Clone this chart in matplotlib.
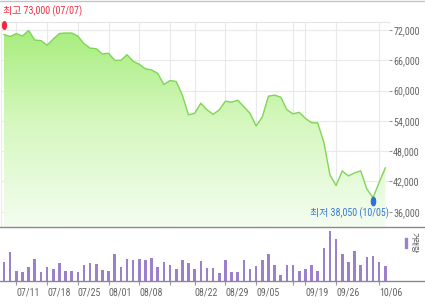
import numpy as np
import matplotlib.pyplot as plt
from matplotlib.colors import LinearSegmentedColormap
from matplotlib.lines import Line2D
from matplotlib.patches import Rectangle

# daily closes, 2022-07-07 .. 2022-10-07 (trading days only)
closes = [71100, 70700, 71300, 70800, 71900, 70000, 69900, 69000, 70200, 71300,
          71400, 71400, 70800, 69300, 68400, 68300, 67250, 67400, 66000, 66000,
          67100, 65800, 65200, 64300, 64100, 63400, 61200, 62000, 61800, 59100,
          55200, 55500, 57500, 56200, 55300, 56200, 57900, 57700, 58100, 56800,
          55500, 53000, 54800, 58900, 59100, 58700, 56200, 55400, 55700, 54500,
          53650, 53600, 49800, 43300, 41200, 44100, 43100, 43700, 44100, 40500,
          38800, 41800, 44700]
volumes = [190, 287, 103, 87, 143, 217, 87, 137, 117, 180,
           97, 97, 90, 163, 180, 167, 113, 97, 270, 140,
           220, 210, 220, 213, 230, 143, 187, 163, 120, 210,
           180, 117, 197, 130, 130, 77, 207, 93, 93, 210,
           123, 150, 207, 270, 163, 60, 160, 160, 100, 120,
           157, 100, 330, 497, 423, 273, 187, 297, 157, 243,
           250, 193, 147]
tick_idx = [2, 7, 12, 17, 22, 27, 31, 36, 41, 47, 49, 54, 61]
tick_labels = ['07/11', '07/18', '07/25', '08/01', '08/08', '', '08/22',
               '08/29', '09/05', '', '09/19', '09/26', '10/06']
price_ticks = [36000, 42000, 48000, 54000, 60000, 66000, 72000]
high_idx, high_value = 0, 73000
low_idx, low_value = 60, 38050
high_label = '최고 73,000 (07/07)'
low_label = '최저 38,050 (10/05)'

W, H = 425, 308
narrow = ['Roboto Condensed', 'Liberation Sans Narrow', 'Noto Sans CJK KR', 'DejaVu Sans']
plt.rcParams['font.family'] = narrow

fig = plt.figure(figsize=(W / 100, H / 100), dpi=100)


def px_rect(x0, y0, x1, y1):
    return [x0 / W, 1 - y1 / H, (x1 - x0) / W, (y1 - y0) / H]


x = np.arange(len(closes))
xlim = (-0.49, 62.6)

# ---- price panel
ax = fig.add_axes(px_rect(1, 21.7, 389, 226.7))
ax.set_xlim(*xlim)
ax.set_ylim(33050, 73640)

poly = ax.fill_between(x, closes, 33050, facecolor='none', edgecolor='none')
cmap = LinearSegmentedColormap.from_list('g', ['#f4fdf0', '#d6f8c0', '#a4ec78'])
grad = np.linspace(0, 1, 256).reshape(-1, 1)
im = ax.imshow(grad, cmap=cmap, origin='lower', aspect='auto',
               extent=(xlim[0], xlim[1], 33050, 73640), zorder=1)
im.set_clip_path(poly.get_paths()[0], transform=ax.transData)
ax.plot(x, closes, color='#80d556', lw=1.0, zorder=3)

ax.set_yticks(price_ticks)
ax.set_yticklabels([f'{v:,}' for v in price_ticks])
ax.yaxis.tick_right()
ax.tick_params(axis='y', length=2, color='#999999', labelcolor='#666666',
               labelsize=7.2, pad=1)
ax.set_xticks(tick_idx)
ax.tick_params(axis='x', length=0, labelbottom=False)
ax.grid(True, color='#e9e9e9', lw=0.8, zorder=0)
ax.set_axisbelow(True)
for s in ['right', 'bottom']:
    ax.spines[s].set_visible(False)
ax.spines['top'].set_color('#e4e4e4')
ax.spines['left'].set_color('#ececec')

# max / min markers
ell = np.linspace(0, 2 * np.pi, 40)
ell_marker = np.column_stack([0.5 * np.cos(ell), np.sin(ell)])
ax.plot([high_idx], [high_value], marker=ell_marker, ms=5.5, color='#ee2a3c',
        lw=0, clip_on=False, zorder=5)
ax.plot([low_idx], [low_value], marker=ell_marker, ms=6, color='#2f6fd6',
        lw=0, clip_on=False, zorder=5)
ax.annotate(high_label, xy=(high_idx, high_value), xytext=(-1, 9.5),
            textcoords='offset points', ha='left', va='center',
            fontsize=7.2, color='#ee3344', annotation_clip=False)
ax.annotate(low_label, xy=(low_idx, low_value), xytext=(11.7, -8.2),
            textcoords='offset points', ha='right', va='center',
            fontsize=7.2, color='#3a78d8', annotation_clip=False, zorder=6)

# ---- volume panel
axv = fig.add_axes(px_rect(1, 227, 389, 281))
axv.set_xlim(*xlim)
axv.set_ylim(0, 540)
axv.bar(x, volumes, width=0.42, color='#9b80cc', zorder=2)
for s in axv.spines.values():
    s.set_visible(False)
axv.set_yticks([])
axv.set_xticks(tick_idx)
axv.set_xticklabels(tick_labels)
for lab in axv.get_xticklabels():
    lab.set_ha('left')
axv.tick_params(axis='x', length=3, color='#999999', labelcolor='#666666',
                labelsize=7.2, pad=2)

# frame lines
fig.add_artist(Line2D([0, 1], [1 - 0.5 / H, 1 - 0.5 / H], color='#c4c4c4', lw=1))
fig.add_artist(Line2D([0, 1], [1 - 227 / H, 1 - 227 / H], color='#8a8a8a', lw=1))
fig.add_artist(Line2D([0, 1], [1 - 281 / H, 1 - 281 / H], color='#8a8a8a', lw=1))

# volume legend
fig.add_artist(Rectangle((404.5 / W, 1 - 248 / H), 2 / W, 10 / H,
                         color='#9b80cc', transform=fig.transFigure))
fig.text(414 / W, 1 - 243 / H, '거래량', rotation=270, ha='center', va='center',
         fontsize=5.5, color='#555555')

fig.savefig('out.png', dpi=100)
